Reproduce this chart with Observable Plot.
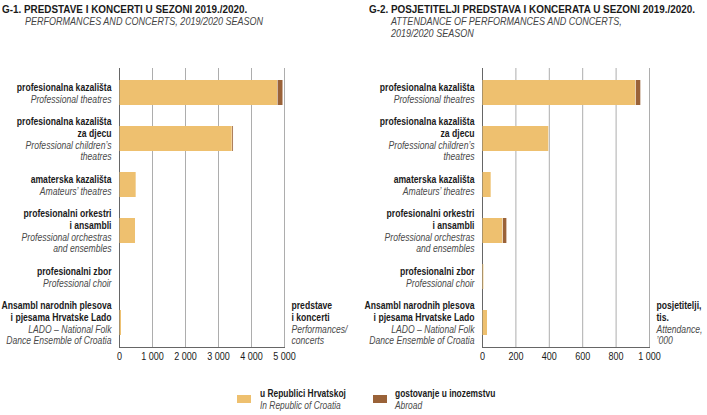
<!DOCTYPE html>
<html><head><meta charset="utf-8">
<script src="https://cdn.jsdelivr.net/npm/d3@7"></script>
<script src="https://cdn.jsdelivr.net/npm/@observablehq/plot@0.6"></script>
<style>
body{margin:0;background:#fff;}
#root{position:relative;width:707px;height:415px;overflow:hidden;font-family:"Liberation Sans",Arial,sans-serif;color:#1a1a1a;}
.t{position:absolute;white-space:nowrap;line-height:12px;transform-origin:0 0;transform:scaleX(0.86);}
.b{font-weight:bold;font-size:11.5px;}
.i{font-style:italic;font-size:11px;color:#444;transform:scaleX(0.82);}
.lg{font-size:10.5px;line-height:11.5px;transform:scaleX(0.8);}
.sw{position:absolute;width:14px;height:8px;}
.plot{position:absolute;top:55px;}
</style></head><body><div id="root"></div>
<script>
const categoriesHr = ["profesionalna kazališta","profesionalna kazališta\nza djecu","amaterska kazališta","profesionalni orkestri\ni ansambli","profesionalni zbor","Ansambl narodnih plesova\ni pjesama Hrvatske Lado"];
const categoriesEn = ["Professional theatres","Professional children’s\ntheatres","Amateurs’ theatres","Professional orchestras\nand ensembles","Professional choir","LADO – National Folk\nDance Ensemble of Croatia"];
const seriesHr = ["u Republici Hrvatskoj","gostovanje u inozemstvu"];
const seriesEn = ["In Republic of Croatia","Abroad"];
const performancesDomestic = [4790, 3415, 505, 485, 15, 60];
const performancesAbroad   = [165, 40, 0, 10, 0, 0];
const attendanceDomestic   = [918, 397, 52, 122, 8, 30];
const attendanceAbroad     = [30, 3, 0, 24, 0, 0];
const ticksG1 = [0, 1000, 2000, 3000, 4000, 5000];
const ticksG2 = [0, 200, 400, 600, 800, 1000];
const colors = ["#eec06f", "#9a6238"];
const FONT = '"Liberation Sans",Arial,sans-serif';
const SX = 0.82;

const root = document.getElementById("root");
function addText(html, cls, left, top) {
  const d = document.createElement("div");
  d.className = "t " + cls; d.style.left = left + "px"; d.style.top = top + "px";
  d.innerHTML = html; root.appendChild(d); return d;
}
const fmt = d => d3.format(",")(d).replace(/,/g, " ");
const nl = s => s.split("\n").length;

function condense(svg) {
  svg.querySelectorAll("text").forEach(el => {
    let t = el.getAttribute("transform") || "";
    const x = el.getAttribute("x");
    if (x != null && !isNaN(+x)) {
      t += ` translate(${+x},0)`;
      el.removeAttribute("x");
    }
    el.setAttribute("transform", t + ` scale(${SX},1)`);
  });
}

function chart(dom, abr, ticks, width, marginLeft, marginRight, unitHr, unitEn) {
  const data = [];
  categoriesHr.forEach((c, i) => {
    data.push({cat: c, type: seriesHr[0], value: dom[i]});
    data.push({cat: c, type: seriesHr[1], value: abr[i]});
  });
  const rows = categoriesHr.map((c, i) => ({cat: c, hr: c, en: categoriesEn[i]}));
  const unit = [{cat: categoriesHr[categoriesHr.length - 1], hr: unitHr, en: unitEn}];
  const common = {y: "cat", frameAnchor: "left", textAnchor: "end", dx: -8, fontSize: 10.5, lineHeight: 1.12};
  const ucommon = {y: "cat", frameAnchor: "right", textAnchor: "start", dx: 7, fontSize: 10.5, lineHeight: 1.12};
  const svg = Plot.plot({
    width, height: 315, marginTop: 13, marginBottom: 23, marginLeft, marginRight,
    style: {fontFamily: FONT, fontSize: "10px", color: "#1a1a1a", background: "transparent", overflow: "visible"},
    x: {domain: [0, ticks[ticks.length - 1]], label: null},
    y: {domain: categoriesHr, paddingInner: 0.46, paddingOuter: 0.24, axis: null},
    color: {domain: seriesHr, range: colors},
    marks: [
      Plot.gridX(ticks, {stroke: "#adadad", strokeOpacity: 1}),
      Plot.ruleX([0], {stroke: "#666"}),
      Plot.barX(data, {x: "value", y: "cat", fill: "type", insetLeft: 0.5}),
      Plot.frame({anchor: "bottom", stroke: "#666"}),
      Plot.axisX({ticks, tickFormat: fmt, tickSize: 0, tickPadding: 5, label: null, fontSize: 11, fill: "#1a1a1a"}),
      Plot.text(rows, {...common, text: r => r.hr + "\n".repeat(nl(r.en)), fontWeight: "bold", fill: "#1a1a1a"}),
      Plot.text(rows, {...common, text: r => "\n".repeat(nl(r.hr)) + r.en, fontStyle: "italic", fill: "#4a4a4a"}),
      Plot.text(unit, {...ucommon, text: d => d.hr + "\n".repeat(nl(d.en)), fontWeight: "bold", fill: "#1a1a1a"}),
      Plot.text(unit, {...ucommon, text: d => "\n".repeat(nl(d.hr)) + d.en, fontStyle: "italic", fill: "#4a4a4a"})
    ]
  });
  condense(svg);
  return svg;
}

const c1 = chart(performancesDomestic, performancesAbroad, ticksG1, 360, 119, 76, "predstave\ni koncerti", "Performances/\nconcerts");
c1.classList.add("plot"); c1.style.left = "0px"; root.appendChild(c1);
const c2 = chart(attendanceDomestic, attendanceAbroad, ticksG2, 347, 122, 58, "posjetitelji,\ntis.", "Attendance,\n’000");
c2.classList.add("plot"); c2.style.left = "360px"; root.appendChild(c2);

addText("G-1. PREDSTAVE I KONCERTI U SEZONI 2019./2020.", "b", 2, 3);
addText("PERFORMANCES AND CONCERTS, 2019/2020 SEASON", "i", 25, 15);
addText("G-2. POSJETITELJI PREDSTAVA I KONCERATA U SEZONI 2019./2020.", "b", 369, 3);
addText("ATTENDANCE OF PERFORMANCES AND CONCERTS,<br>2019/2020 SEASON", "i", 391, 15);

const lg = [[237, 260], [373, 395]];
seriesHr.forEach((s, i) => {
  const sw = document.createElement("div");
  sw.className = "sw"; sw.style.left = lg[i][0] + "px"; sw.style.top = "395px"; sw.style.background = colors[i];
  root.appendChild(sw);
  addText("<span style='font-weight:bold'>" + s + "</span><br><span style='font-style:italic;color:#4a4a4a'>" + seriesEn[i] + "</span>", "lg", lg[i][1], 388);
});
</script></body></html>
